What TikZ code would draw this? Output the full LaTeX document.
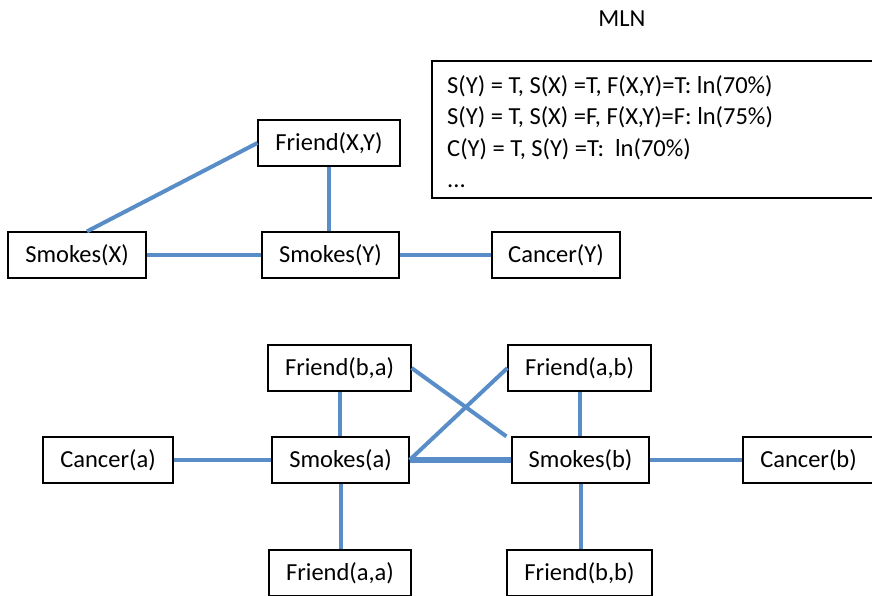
\documentclass[tikz,border=0pt]{standalone}
\usepackage{fontspec}
\setmainfont{Carlito}
\definecolor{edgeblue}{RGB}{88,141,200}
\begin{document}
\begin{tikzpicture}[x=1pt,y=-1pt,
  box/.style={draw=black, line width=1.2pt, rectangle, inner sep=0pt, minimum height=46pt, font=\fontsize{24.5}{29}\selectfont},
  txt/.style={inner sep=0pt, font=\fontsize{24.5}{29}\selectfont},
  edge/.style={draw=edgeblue, line width=4pt},
  thickedge/.style={draw=edgeblue, line width=5.5pt}]
\useasboundingbox (0,0) rectangle (872,595);
% MLN label and box
\node[txt] (mln) at (622,19) {MLN};
\node[draw=black, line width=1.2pt, rectangle, inner sep=0pt, minimum width=446pt, minimum height=137pt] (mlnbox) at (655,129.5) {};
\node[txt, anchor=base west] (l1) at (447,93) {S(Y) = T, S(X) =T, F(X,Y)=T: ln(70\%)};
\node[txt, anchor=base west] (l2) at (447,124.5) {S(Y) = T, S(X) =F, F(X,Y)=F: ln(75\%)};
\node[txt, anchor=base west] (l3) at (447,156) {C(Y) = T, S(Y) =T:\ \ ln(70\%)};
\node[txt, anchor=base west] (l4) at (447,187.5) {...};
% top graph
\node[box, minimum width=142pt] (fxy) at (329,143) {Friend(X,Y)};
\node[box, minimum width=138pt] (sx) at (77,255) {Smokes(X)};
\node[box, minimum width=137pt] (sy) at (330.5,255) {Smokes(Y)};
\node[box, minimum width=128pt] (cy) at (556,255) {Cancer(Y)};
\draw[edge] (fxy.west) -- ([xshift=10pt]sx.north);
\draw[edge] (fxy.south) -- (fxy.south |- sy.north);
\draw[edge] (sx.east) -- (sy.west);
\draw[edge] (sy.east) -- (cy.west);
% bottom graph
\node[box, minimum width=143pt] (fba) at (339.5,368) {Friend(b,a)};
\node[box, minimum width=143pt] (fab) at (579.5,368) {Friend(a,b)};
\node[box, minimum width=130pt] (ca) at (108,460) {Cancer(a)};
\node[box, minimum width=137pt] (sa) at (340.5,460) {Smokes(a)};
\node[box, minimum width=137pt] (sb) at (580.5,460) {Smokes(b)};
\node[box, minimum width=131pt] (cb) at (808.5,460) {Cancer(b)};
\node[box, minimum width=142pt] (faa) at (340,573) {Friend(a,a)};
\node[box, minimum width=145pt] (fbb) at (579.5,573) {Friend(b,b)};
\draw[edge] (fba.south) -- (fba.south |- sa.north);
\draw[edge] (ca.east) -- (sa.west);
\draw[edge] (fba.east) -- ([xshift=-5pt]sb.north west);
\draw[edge] (fab.west) -- (sa.east);
\draw[thickedge] (sa.east) -- (sb.west);
\draw[edge] (fab.south) -- (fab.south |- sb.north);
\draw[edge] (sb.east) -- (cb.west);
\draw[edge] (sa.south) -- (sa.south |- faa.north);
\draw[edge] (sb.south) -- (sb.south |- fbb.north);
\end{tikzpicture}
\end{document}
